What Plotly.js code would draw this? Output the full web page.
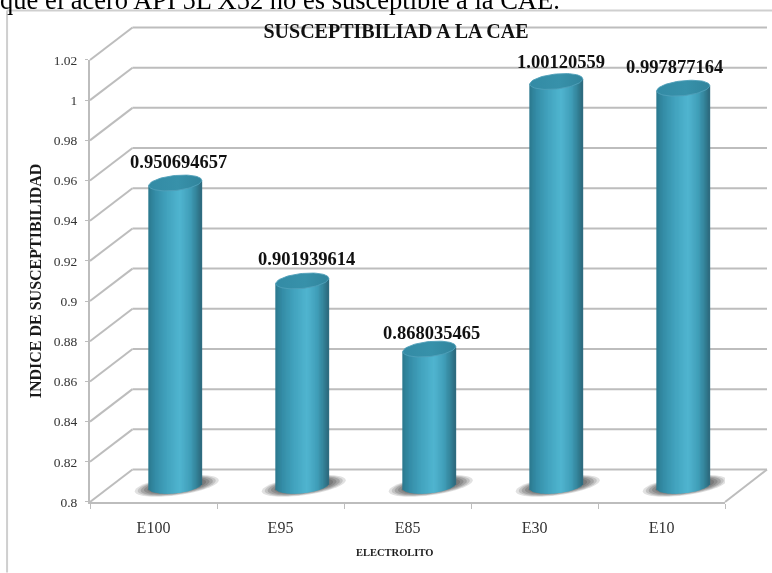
<!DOCTYPE html>
<html><head><meta charset="utf-8">
<script src="https://cdn.plot.ly/plotly-3.0.1.min.js"></script>
<style>html,body{margin:0;padding:0;background:#fff}#c{width:772px;height:573px;filter:blur(0.5px)}</style>
</head><body><div id="c"></div>
<script>
// ---- data ----
const categories = ['E100','E95','E85','E30','E10'];
const values = [0.950694657,0.901939614,0.868035465,1.00120559,0.997877164];
const valueLabels = ['0.950694657','0.901939614','0.868035465','1.00120559','0.997877164'];
const yTicks = [0.8,0.82,0.84,0.86,0.88,0.9,0.92,0.94,0.96,0.98,1,1.02];
const yTickText = ['0.8','0.82','0.84','0.86','0.88','0.9','0.92','0.94','0.96','0.98','1','1.02'];
const labelNudgeX = [3.5,4.5,2,5,-9];
const labelRise = [21,22,16,20,21];
// ---- geometry ----
const W=772,H=573;
const L=89.5,R=725,BK=767,B=502.5,T=60,TK=27;
const depthX=42.5, depthY=32.5;
const pxPerCat=(R-L)/5, pxPerY=(B-T)/0.22;
const dCat=px=>px/pxPerCat, dVal=px=>px/pxPerY;
const paperX=px=>(px-L)/(BK-L), paperY=py=>(B-py)/(B-TK);
const toPxY=v=>B-(v-0.8)*pxPerY;
const toPxX=c=>L+(c+0.5)*pxPerCat;
const cx=i=>i+dCat(depthX/2+0.5);
const yLift=dVal(depthY/2);
const halfW=dCat(26.5), ellH=dVal(7.5), tilt=dVal(2.6);

const stops=[[0,[44,122,144]],[0.12,[52,140,166]],[0.35,[66,163,190]],[0.6,[80,181,208]],[0.8,[64,158,184]],[0.93,[50,128,150]],[1,[46,108,128]]];
function grad(t){for(let k=1;k<stops.length;k++){if(t<=stops[k][0]){const a=stops[k-1],b=stops[k],f=(t-a[0])/(b[0]-a[0]);
  return 'rgb('+a[1].map((c,j)=>Math.round(c+(b[1][j]-c)*f)).join(',')+')';}}return 'rgb(46,108,128)';}

const traces=[];
// cylinder bodies drawn as thin vertical bars, one value per category
const N=40;
for(let s=0;s<N;s++){
  const u=-1+2*(s+0.5)/N;
  const off=u*halfW;
  const bottom=0.8+yLift+tilt*u-ellH*Math.sqrt(1-u*u);
  traces.push({type:'bar',x:categories.map((_,i)=>cx(i)+off),base:values.map(()=>bottom),
    y:values.map(v=>v+yLift+tilt*u-bottom),width:dCat(53/N+0.9),
    marker:{color:grad(s/(N-1)),line:{width:0}},hoverinfo:'skip',showlegend:false,cliponaxis:false});
}
// top ellipses
values.forEach((v,i)=>{
  const xs=[],ys=[];
  for(let a=0;a<=72;a++){const t=a/72*2*Math.PI;
    xs.push(cx(i)+halfW*Math.cos(t));
    ys.push(v+yLift+tilt*Math.cos(t)+ellH*Math.sin(t));}
  traces.push({type:'scatter',mode:'lines',x:xs,y:ys,fill:'toself',line:{width:1,color:'rgba(80,160,185,0.9)'},
    fillgradient:{type:'horizontal',colorscale:[[0,'#338ba5'],[0.55,'#3791aa'],[1,'#31849c']]},
    hoverinfo:'skip',showlegend:false,cliponaxis:false});
});

// ---- walls, floor, grid (paper shapes from tick values) ----
const shapes=[];
const lineCol='#bdbdbd';
const pl=(x0,y0,x1,y1,w,c)=>({type:'line',xref:'paper',yref:'paper',x0:paperX(x0),y0:paperY(y0),x1:paperX(x1),y1:paperY(y1),
  line:{color:c||lineCol,width:w||2},layer:'below'});
yTicks.forEach(t=>{
  const py=toPxY(t);
  shapes.push(pl(L,py,L+depthX,py-depthY));
  shapes.push(pl(L+depthX,py-depthY,BK,py-depthY));
});
shapes.push(pl(R,B,BK,B-depthY));
// soft floor shadows
const shadowSteps=[[1.0,0.18],[0.93,0.22],[0.86,0.28],[0.78,0.32],[0.7,0.35]];
categories.forEach((_,i)=>{
  shadowSteps.forEach(st=>{
    const k=st[0],cxx=cx(i)+dCat(1.5),cyy=0.8+yLift;
    let p='';
    for(let a=0;a<=48;a++){const t=a/48*2*Math.PI;
      const X=cxx+dCat(42)*k*Math.cos(t), Y=cyy+dVal(5.5)*k*Math.cos(t)+dVal(9.5)*k*Math.sin(t);
      p+=(a?'L':'M')+X+','+Y;}
    shapes.push({type:'path',xref:'x',yref:'y',path:p+'Z',fillcolor:'rgba(90,90,90,'+st[1]+')',line:{width:0},layer:'below'});
  });
});
// frame of the pasted picture
shapes.push({type:'line',xref:'paper',yref:'paper',x0:paperX(6.5),y0:paperY(10.5),x1:paperX(W),y1:paperY(10.5),line:{color:'#cfcfcf',width:2}});
shapes.push({type:'line',xref:'paper',yref:'paper',x0:paperX(6.5),y0:paperY(10.5),x1:paperX(6.5),y1:paperY(H),line:{color:'#cfcfcf',width:2}});

// ---- annotations ----
const annotations=values.map((v,i)=>({xref:'paper',yref:'paper',
  x:paperX(toPxX(cx(i))+labelNudgeX[i]),y:paperY(toPxY(v)-depthY/2-labelRise[i]),
  text:'<b>'+valueLabels[i]+'</b>',showarrow:false,xanchor:'center',yanchor:'middle',
  font:{family:'"Liberation Serif",serif',size:18.5,color:'#111'}}));
annotations.push({xref:'paper',yref:'paper',x:paperX(394),y:paperY(553),text:'<b>ELECTROLITO</b>',showarrow:false,
  xanchor:'center',yanchor:'middle',font:{family:'"Liberation Serif",serif',size:10.5,color:'#1a1a1a'}});
annotations.push({xref:'paper',yref:'paper',x:paperX(-3),y:paperY(0),text:'que el acero API 5L X52 no es susceptible a la CAE.',
  showarrow:false,xanchor:'left',yanchor:'middle',font:{family:'"Liberation Serif",serif',size:26.5,color:'#000'}});

const layout={
  width:W,height:H,paper_bgcolor:'#fff',plot_bgcolor:'rgba(0,0,0,0)',showlegend:false,
  barmode:'overlay',dragmode:false,
  margin:{l:L,r:W-BK,t:TK,b:H-B,pad:0},
  title:{text:'<b>SUSCEPTIBILIAD A LA CAE</b>',x:396/W,xanchor:'center',y:1-31/H,yanchor:'middle',
    font:{family:'"Liberation Serif",serif',size:20,color:'#111'}},
  xaxis:{domain:[0,paperX(R)],range:[-0.5,4.5],tickmode:'array',tickvals:categories.map((_,i)=>i),ticktext:categories,
    ticks:'',ticklabelstandoff:10,showgrid:false,zeroline:false,showline:true,linecolor:lineCol,linewidth:2,
    tickfont:{family:'"Liberation Serif",serif',size:16,color:'#333'},
    minor:{ticks:'outside',ticklen:5,tickcolor:lineCol,tickwidth:1,tickvals:[-0.5,0.5,1.5,2.5,3.5,4.5],showgrid:false}},
  yaxis:{domain:[0,paperY(T)],range:[0.8,1.02],tickmode:'array',tickvals:yTicks,ticktext:yTickText,
    ticks:'outside',ticklen:3,tickcolor:lineCol,tickwidth:1,ticklabelstandoff:5,showgrid:false,zeroline:false,
    showline:true,linecolor:lineCol,linewidth:2,
    tickfont:{family:'"Liberation Serif",serif',size:13.5,color:'#333'},
    title:{text:'<b>INDICE DE SUSCEPTIBILIDAD</b>',standoff:8,font:{family:'"Liberation Serif",serif',size:16,color:'#1a1a1a'}}},
  shapes:shapes,annotations:annotations
};
Plotly.newPlot('c',traces,layout,{displayModeBar:false,staticPlot:true});
</script></body></html>
